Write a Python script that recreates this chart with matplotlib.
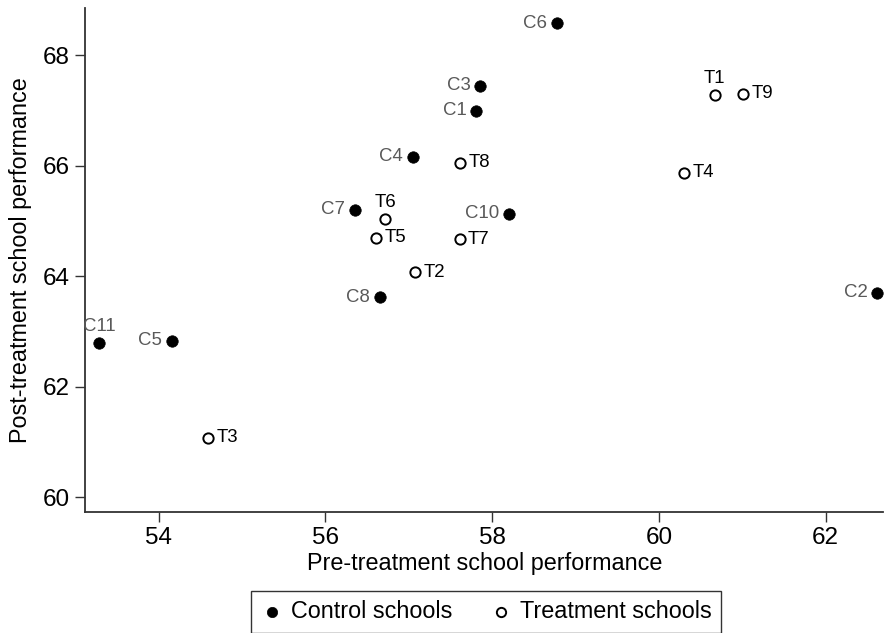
import matplotlib
matplotlib.use("Agg")
import matplotlib.pyplot as plt

plt.rcParams["font.family"] = ["Liberation Sans", "DejaVu Sans"]

# --- data --------------------------------------------------------------------
ctrl_names = ["C1", "C2", "C3", "C4", "C5", "C6", "C7", "C8", "C10", "C11"]
ctrl_pre = [57.81, 62.62, 57.86, 57.05, 54.16, 58.78, 56.35, 56.65, 58.20, 53.29]
ctrl_post = [66.99, 63.70, 67.45, 66.16, 62.83, 68.58, 65.20, 63.62, 65.13, 62.79]
ctrl_pos = ["left", "left", "left", "left", "left", "left", "left", "left", "left", "top"]

treat_names = ["T1", "T2", "T3", "T4", "T5", "T6", "T7", "T8", "T9"]
treat_pre = [60.67, 57.08, 54.59, 60.30, 56.61, 56.72, 57.61, 57.62, 61.01]
treat_post = [67.28, 64.07, 61.08, 65.87, 64.70, 65.03, 64.67, 66.05, 67.30]
treat_pos = ["top", "right", "right", "right", "right", "top", "right", "right", "right"]

xticks = [54, 56, 58, 60, 62]
yticks = [60, 62, 64, 66, 68]

# label placement: offset in points + alignment
OFFS = {"left": ((-7, 0), "right", "center"),
        "right": ((6, 0), "left", "center"),
        "top": ((0, 12), "center", "center")}

fig = plt.figure(figsize=(8.84, 6.33), dpi=100)
ax = fig.add_axes([0.0965, 0.191, 0.9025, 0.796])

ax.scatter(ctrl_pre, ctrl_post, s=68, color="black", edgecolor="black",
           linewidth=0.5, zorder=3, label="Control schools")
ax.scatter(treat_pre, treat_post, s=55, facecolor="white", edgecolor="black",
           linewidth=1.4, zorder=3, label="Treatment schools")

for names, xs, ys, pos, col in [(ctrl_names, ctrl_pre, ctrl_post, ctrl_pos, "#595959"),
                                (treat_names, treat_pre, treat_post, treat_pos, "black")]:
    for n, x, y, p in zip(names, xs, ys, pos):
        off, ha, va = OFFS[p]
        ax.annotate(n, (x, y), xytext=off, textcoords="offset points",
                    ha=ha, va=va, fontsize=13.4, color=col)

ax.set_xlim(53.12, 62.69)
ax.set_ylim(59.73, 68.85)
ax.set_xticks(xticks)
ax.set_yticks(yticks)
ax.tick_params(direction="out", length=7, width=1, labelsize=17.5, colors="#333333",
               labelcolor="black", pad=4)
for s in ["top", "right"]:
    ax.spines[s].set_visible(False)
for s in ["left", "bottom"]:
    ax.spines[s].set_color("#333333")
    ax.spines[s].set_linewidth(1.3)

ax.set_xlabel("Pre-treatment school performance", fontsize=16.8, labelpad=2)
ax.set_ylabel("Post-treatment school performance", fontsize=16.8, labelpad=8)

leg = fig.legend(loc="lower center", bbox_to_anchor=(0.55, -0.018), ncol=2,
                 fontsize=16.8, frameon=True, fancybox=False, edgecolor="black",
                 handletextpad=0.3, columnspacing=1.6, borderpad=0.4,
                 handlelength=1.0, markerscale=0.9)
leg.get_frame().set_linewidth(1.0)

fig.savefig("out.png", dpi=100)
